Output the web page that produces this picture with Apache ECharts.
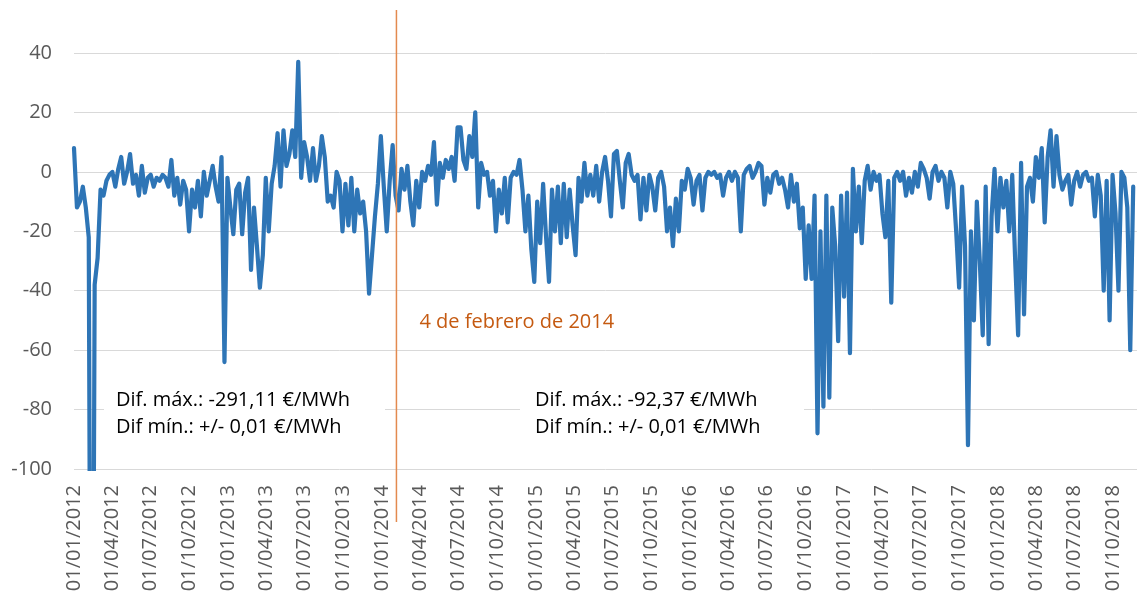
<!DOCTYPE html>
<html>
<head>
<meta charset="utf-8">
<script src="https://cdn.jsdelivr.net/npm/echarts@6/dist/echarts.min.js"></script>
<style>
  html, body { margin: 0; padding: 0; background: #fff; }
  #chart { width: 1137px; height: 596px; }
</style>
</head>
<body>
<div id="chart"></div>
<script>
// daily axis, one reading per week
const startDate = '2012-01-01';
const endDate = '2018-11-27';
const stepDays = 7;
const eventDate = '2014-02-04';
const eventLabel = '4 de febrero de 2014';
const yTicks = [-100, -80, -60, -40, -20, 0, 20, 40];
const noteBefore = ['Dif. máx.: -291,11 €/MWh', 'Dif mín.: +/- 0,01 €/MWh'];
const noteAfter = ['Dif. máx.: -92,37 €/MWh', 'Dif mín.: +/- 0,01 €/MWh'];

const diff2012 = [8, -12, -10, -5, -12, -22, -291, -38, -29, -6, -8, -3, -1, 0, -5, 1, 5, -4, 0, 6,
  -4, -1, -8, 2, -7, -2, -1, -5, -2, -3, -1, -2, -5, 4, -8, -2, -11, -3, -6, -20, -6, -12, -3, -15, 0,
  -8, -3, 2, -5, -10, 5, -64];
const diff2013 = [-2, -12, -21, -6, -4, -21, -7, -2, -33, -12, -25, -39, -28, -2, -20, -4, 2, 13, -5, 14,
  2, 6, 14, 5, 37, -2, 10, 5, -3, 8, -3, 2, 12, 5, -10, -8, -12, 0, -3, -20, -4, -18, -2, -20, -6,
  -14, -10, -20, -41, -28, -15, -4];
const diff2014 = [12, -5, -20, -3, 9, -8, -13, 1, -6, 2, -10, -18, -3, -12, 0, -3, 2, -1, 10, -11,
  3, -2, 4, 1, 5, -3, 15, 15, 4, 1, 12, 5, 20, -12, 3, -1, 0, -8, -3, -20, -6, -14, -2, -17, -2,
  0, -1, 4, -6, -20, -8, -26];
const diff2015 = [-37, -10, -24, -4, -22, -37, -6, -20, -5, -24, -4, -22, -6, -18, -28, -2, -10, 3, -8, -1,
  -8, 2, -10, 0, 5, -3, -15, 6, 7, -3, -12, 3, 6, -1, -3, -1, -16, -2, -13, -1, -5, -13, -2, 0, -5,
  -20, -12, -25, -9, -20, -3, -6];
const diff2016 = [1, -2, -11, -3, -1, -13, -2, 0, -1, 0, -2, -1, -8, -2, 0, -3, 0, -2, -20, -1,
  1, 2, -2, 0, 3, 2, -11, -2, -7, -1, 0, -4, -2, -6, -12, -1, -10, -4, -19, -12, -36, -18, -36, -8, -88,
  -20, -79, -8, -76, -12, -25, -57];
const diff2017 = [-8, -42, -7, -61, 1, -20, -5, -24, -3, 2, -6, 0, -3, -1, -14, -22, -3, -44, -2, 0,
  -3, 0, -8, -2, -7, 0, -5, 3, 1, -2, -9, 0, 2, -3, 0, -2, -12, 0, -4, -20, -39, -5, -25, -92, -20,
  -50, -10, -30, -55, -5, -58, -15];
const diff2018 = [1, -20, -2, -12, -3, -20, -1, -30, -55, 3, -48, -5, -2, -10, 5, -2, 8, -17, 5, 14,
  -5, 12, -1, -6, -3, -1, -11, -3, 0, -5, -1, 0, -3, -2, -15, -1, -8, -40, -3, -50, -1, -14, -40, 0, -2,
  -12, -60, -5];

const DAY = 86400000;
const pad = n => String(n).padStart(2, '0');
const toUTC = s => Date.parse(s + 'T00:00:00Z');
const fmtDate = t => {
  const d = new Date(t);
  return pad(d.getUTCDate()) + '/' + pad(d.getUTCMonth() + 1) + '/' + d.getUTCFullYear();
};

const t0 = toUTC(startDate);
const days = [];
for (let t = t0; t <= toUTC(endDate); t += DAY) days.push(fmtDate(t));

const weekly = [].concat(diff2012, diff2013, diff2014, diff2015, diff2016, diff2017, diff2018);
const seriesData = weekly.map((v, i) => [i * stepDays, v]);
const eventIdx = Math.round((toUTC(eventDate) - t0) / DAY);

const font = '"Open Sans", sans-serif';

const chart = echarts.init(document.getElementById('chart'));

const getOption = () => ({
  animation: false,
  grid: { left: 74, right: 0, top: 53, bottom: 127 },
  xAxis: {
    type: 'category',
    data: days,
    boundaryGap: false,
    axisLine: { show: false },
    axisTick: { show: false },
    splitLine: { show: false },
    axisLabel: {
      rotate: 90,
      margin: 16,
      color: '#595959',
      fontFamily: font,
      fontSize: 20,
      interval: (idx, val) => val.slice(0, 2) === '01' && ['01', '04', '07', '10'].includes(val.slice(3, 5)),
    },
  },
  yAxis: {
    type: 'value',
    min: yTicks[0],
    max: yTicks[yTicks.length - 1],
    interval: 20,
    axisLine: { show: false },
    axisTick: { show: false },
    splitLine: { lineStyle: { color: '#d9d9d9', width: 1 } },
    axisLabel: { margin: 22, color: '#595959', fontFamily: font, fontSize: 20 },
  },
  series: [
    {
      type: 'line',
      data: seriesData,
      showSymbol: false,
      clip: true,
      z: 2,
      lineStyle: { color: '#2e75b6', width: 4.2, join: 'round', cap: 'round' },
    },
  ],
});

chart.setOption(getOption());

// annotation boxes and the vertical event marker
const ex = chart.convertToPixel({ xAxisIndex: 0 }, eventIdx);
const noteText = (txt, x, y) => ({
  type: 'text', x: x, y: y, z: 5,
  style: { text: txt, fill: '#000', font: '20px ' + font, verticalAlign: 'middle' },
});

chart.setOption({
  graphic: [
    { type: 'rect', z: 1, shape: { x: 104, y: 382, width: 281, height: 64 }, style: { fill: '#fff' } },
    { type: 'rect', z: 1, shape: { x: 520, y: 382, width: 284, height: 64 }, style: { fill: '#fff' } },
    noteText(noteBefore[0], 116, 400),
    noteText(noteBefore[1], 116, 427),
    noteText(noteAfter[0], 535, 400),
    noteText(noteAfter[1], 535, 427),
    {
      type: 'line', z: 10,
      shape: { x1: ex, y1: 10, x2: ex, y2: 522 },
      style: { stroke: '#e38a4f', lineWidth: 1.5 },
    },
    {
      type: 'text', x: ex + 23, y: 322, z: 10,
      style: { text: eventLabel, fill: '#c55a11', font: '20px ' + font, verticalAlign: 'middle' },
    },
  ],
});
</script>
</body>
</html>
